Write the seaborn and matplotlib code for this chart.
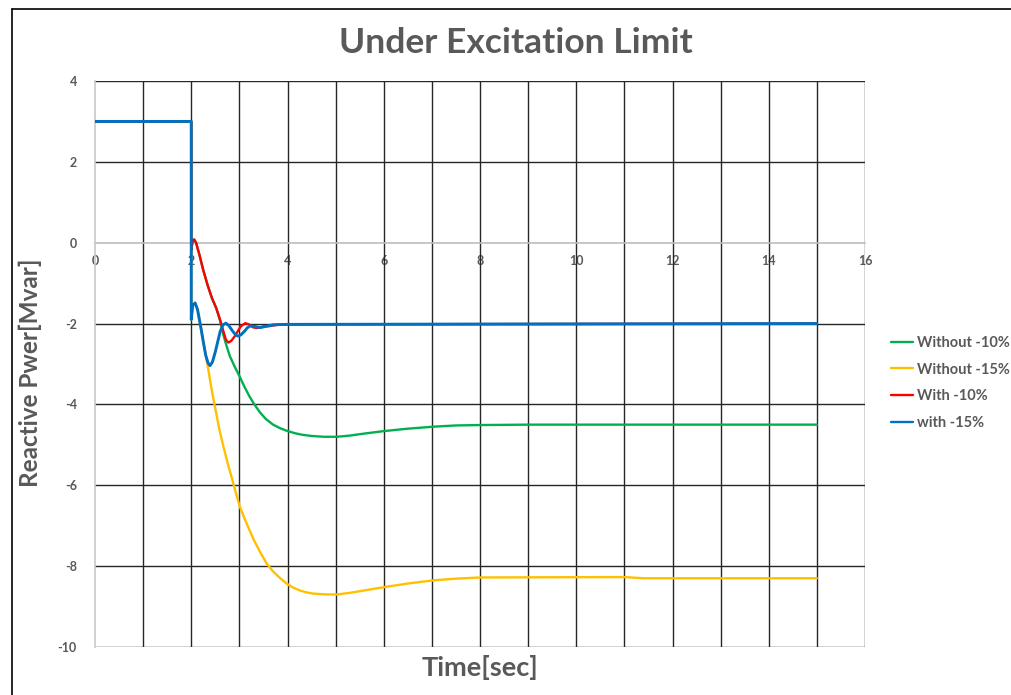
import numpy as np
import pandas as pd
import matplotlib
matplotlib.use("Agg")
import matplotlib.pyplot as plt
from matplotlib.lines import Line2D
from matplotlib.colors import to_rgba
import seaborn as sns

# ---- data ----
series_names = ["Without -10%", "Without -15%", "With -10%", "with -15%"]
colors = ["#00B050", "#FFC000", "#FF0000", "#0070C0"]

t_without10 = [0, 2.0, 2.0, 2.03, 2.06, 2.1, 2.17, 2.25, 2.34, 2.43, 2.52, 2.6, 2.66, 2.72, 2.8, 2.9, 3.01,
               3.1, 3.2, 3.3, 3.43, 3.55, 3.7, 3.85, 3.98, 4.15, 4.3, 4.5, 4.75, 5.03, 5.3, 5.6, 6.0,
               6.5, 7.04, 7.5, 8.0, 9.0, 15.0]
q_without10 = [3, 3, -0.18, 0.05, 0.08, 0.0, -0.3, -0.68, -1.05, -1.37, -1.62, -1.93, -2.25, -2.5, -2.8, -3.06, -3.32,
               -3.55, -3.78, -3.98, -4.2, -4.36, -4.5, -4.59, -4.65, -4.71, -4.75, -4.78, -4.8, -4.8, -4.77, -4.72, -4.66,
               -4.6, -4.55, -4.52, -4.51, -4.5, -4.5]

t_without15 = [0, 2.0, 2.0, 2.03, 2.08, 2.13, 2.2, 2.25, 2.3, 2.35, 2.39, 2.45, 2.5, 2.58, 2.67, 2.76, 2.85,
               2.93, 3.01, 3.1, 3.2, 3.3, 3.43, 3.57, 3.7, 3.85, 3.98, 4.1, 4.25, 4.4, 4.54, 4.8, 5.03,
               5.3, 5.6, 6.0, 6.5, 7.04, 7.5, 8.0, 11.0, 11.4, 15.0]
q_without15 = [3, 3, -1.9, -1.55, -1.49, -1.65, -2.1, -2.45, -2.78, -3.1, -3.4, -3.8, -4.1, -4.6, -5.05, -5.47, -5.85,
               -6.2, -6.53, -6.8, -7.08, -7.35, -7.65, -7.94, -8.13, -8.3, -8.43, -8.52, -8.6, -8.65, -8.68, -8.7, -8.7,
               -8.66, -8.6, -8.52, -8.43, -8.35, -8.31, -8.28, -8.27, -8.3, -8.3]

t_with10 = [0, 2.0, 2.0, 2.03, 2.06, 2.1, 2.17, 2.25, 2.34, 2.43, 2.52, 2.6, 2.67, 2.72, 2.77, 2.83, 2.9,
            2.95, 3.03, 3.12, 3.2, 3.28, 3.36, 3.5, 3.64, 3.8, 4.0, 15.0]
q_with10 = [3, 3, -0.18, 0.05, 0.08, 0.0, -0.3, -0.68, -1.05, -1.37, -1.62, -1.91, -2.2, -2.4, -2.47, -2.43, -2.32,
            -2.22, -2.07, -1.99, -2.02, -2.09, -2.11, -2.07, -2.06, -2.03, -2.02, -2.0]

t_with15 = [0, 2.0, 2.0, 2.03, 2.08, 2.13, 2.2, 2.25, 2.3, 2.35, 2.39, 2.44, 2.5, 2.55, 2.6, 2.66, 2.72,
            2.78, 2.85, 2.92, 2.97, 3.03, 3.1, 3.16, 3.22, 3.32, 3.43, 3.55, 3.7, 4.0, 15.0]
q_with15 = [3, 3, -1.9, -1.55, -1.49, -1.65, -2.1, -2.45, -2.78, -2.98, -3.04, -2.95, -2.7, -2.45, -2.2, -2.03, -1.99,
            -2.05, -2.17, -2.28, -2.31, -2.28, -2.2, -2.11, -2.06, -2.07, -2.1, -2.07, -2.03, -2.02, -2.0]

x_ticks = [0, 2, 4, 6, 8, 10, 12, 14, 16]
y_ticks = [-10, -8, -6, -4, -2, 0, 2, 4]

title = "Under Excitation Limit"
x_label = "Time[sec]"
y_label = "Reactive Pwer[Mvar]"

# ---- build long table ----
frames = []
for name, t, q in zip(series_names,
                      [t_without10, t_without15, t_with10, t_with15],
                      [q_without10, q_without15, q_with10, q_with15]):
    frames.append(pd.DataFrame({"t": t, "q": q, "series": name}))
df = pd.concat(frames, ignore_index=True)

sns.set_theme(style="white")
plt.rcParams["font.family"] = ["Lato", "DejaVu Sans"]

fig = plt.figure(figsize=(10.12, 6.95), dpi=100)
ax = fig.add_axes([95 / 1012, 1 - 647 / 695, (865 - 95) / 1012, (647 - 81) / 695])

grey = "#595959"
gridc = "#262626"

ax.set_xlim(0, 16)
ax.set_ylim(-10, 4)
for xv in range(1, 17):
    ax.axvline(xv, color=gridc, lw=1.0, zorder=1)
for yv in y_ticks:
    if yv != 0:
        ax.axhline(yv, color=gridc, lw=1.0, zorder=1)

sns.lineplot(data=df, x="t", y="q", hue="series", hue_order=series_names,
             palette=colors, sort=False, estimator=None, lw=1.7, ax=ax, zorder=3)

# make the top (blue) trace slightly wider so it fully hides the shared pre-fault segment
blue_rgba = to_rgba(colors[3])
for ln in ax.get_lines():
    if np.allclose(to_rgba(ln.get_color()), blue_rgba) and len(ln.get_xdata()) > 2:
        ln.set_linewidth(2.1)

for s in ["top", "right"]:
    ax.spines[s].set_visible(False)
ax.spines["left"].set_color("#c8c8c8")
ax.spines["left"].set_linewidth(1.2)
ax.spines["bottom"].set_position(("data", 0))
ax.spines["bottom"].set_color("#bdbdbd")
ax.spines["bottom"].set_linewidth(1.2)
ax.spines["bottom"].set_zorder(2)

ax.set_xticks(x_ticks)
ax.set_xticklabels([str(v) for v in x_ticks])
ax.set_yticks(y_ticks)
ax.set_yticklabels([str(v) for v in y_ticks])
ax.tick_params(axis="both", length=0, labelsize=9, labelcolor=grey)
ax.tick_params(axis="x", pad=9)
ax.tick_params(axis="y", pad=13)
for lab in ax.get_xticklabels() + ax.get_yticklabels():
    lab.set_fontweight("bold")

ax.set_xlabel("")
ax.set_ylabel(y_label, fontsize=17.5, fontweight="bold", color=grey)
ax.yaxis.set_label_coords((42 - 95) / 770, 0.485)
fig.text(480 / 1012, 1 - 667 / 695, x_label, fontsize=19.5, fontweight="bold",
         color=grey, ha="center", va="center")
fig.text(516 / 1012, 1 - 43 / 695, title, fontsize=25.5, fontweight="bold",
         color=grey, ha="center", va="center")

handles, labels = ax.get_legend_handles_labels()
ax.legend(handles, labels, loc="center left",
          bbox_to_anchor=(891 / 1012, 1 - 383 / 695), bbox_transform=fig.transFigure,
          frameon=False, fontsize=10.5, handlelength=1.5, handletextpad=0.3,
          labelspacing=0.88, borderaxespad=0, borderpad=0)
for txt in ax.get_legend().get_texts():
    txt.set_color(grey)
    txt.set_fontweight("bold")

fig.add_artist(Line2D([12 / 1012, 1.0], [1 - 9 / 695, 1 - 9 / 695],
                      transform=fig.transFigure, color="black", lw=1.2))
fig.add_artist(Line2D([12 / 1012, 12 / 1012], [0, 1 - 9 / 695],
                      transform=fig.transFigure, color="black", lw=1.2))

fig.savefig("out.png", dpi=100, facecolor="white")
